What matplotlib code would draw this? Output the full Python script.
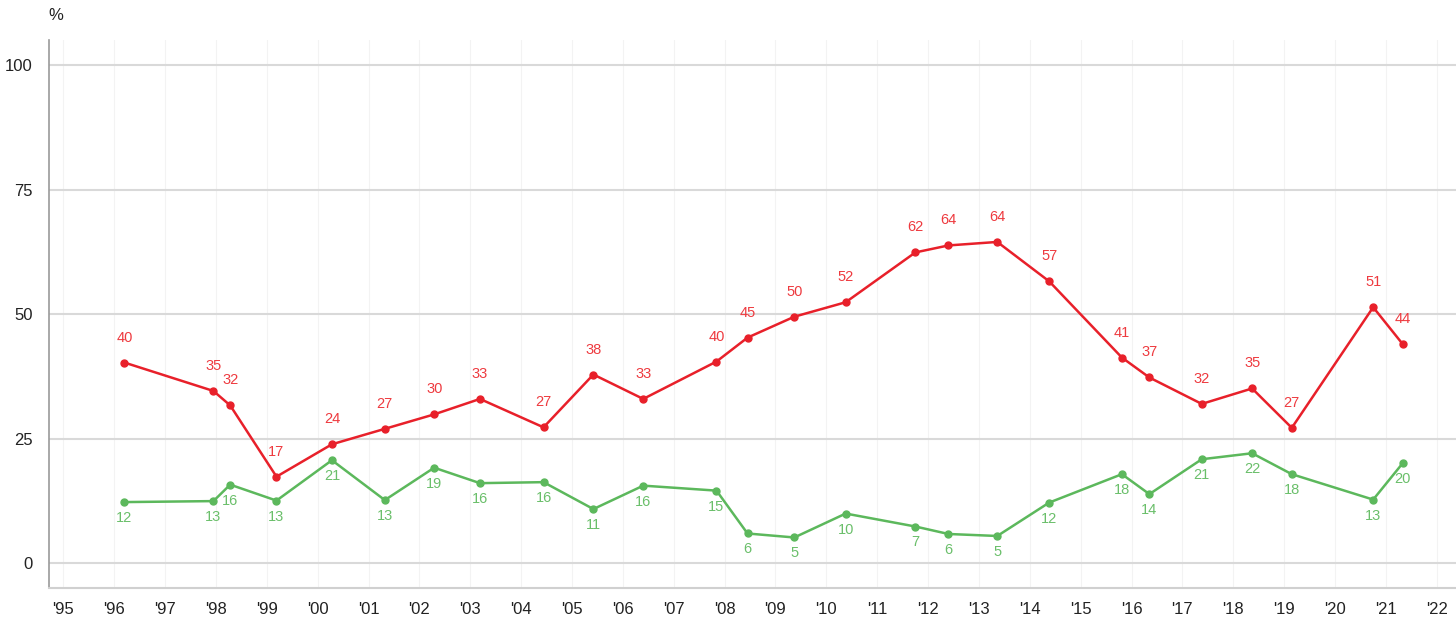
import matplotlib.pyplot as plt
import numpy as np

# survey dates (fractional years) and values in %
dates = [1996.2, 1997.95, 1998.28, 1999.19, 2000.28, 2001.32, 2002.29, 2003.19,
         2004.44, 2005.42, 2006.40, 2007.84, 2008.45, 2009.37, 2010.38, 2011.75,
         2012.40, 2013.36, 2014.38, 2015.81, 2016.35, 2017.38, 2018.37, 2019.15,
         2020.75, 2021.33]
red_values = [40.3, 34.6, 31.7, 17.4, 23.9, 27.0, 29.9, 33.0, 27.3, 37.9, 33.0,
              40.5, 45.3, 49.5, 52.4, 62.4, 63.8, 64.5, 56.6, 41.3, 37.3, 32.0,
              35.1, 27.2, 51.4, 44.0]
red_labels = [40, 35, 32, 17, 24, 27, 30, 33, 27, 38, 33, 40, 45, 50, 52, 62,
              64, 64, 57, 41, 37, 32, 35, 27, 51, 44]
green_values = [12.3, 12.5, 15.8, 12.6, 20.7, 12.7, 19.2, 16.1, 16.3, 10.9, 15.6,
                14.6, 6.0, 5.2, 10.0, 7.4, 5.9, 5.5, 12.2, 17.9, 13.9, 20.9,
                22.1, 17.9, 12.8, 20.1]
green_labels = [12, 13, 16, 13, 21, 13, 19, 16, 16, 11, 16, 15, 6, 5, 10, 7, 6,
                5, 12, 18, 14, 21, 22, 18, 13, 20]

year_ticks = list(range(1995, 2023))
year_tick_labels = ["'%02d" % (y % 100) for y in year_ticks]
y_ticks = [0, 25, 50, 75, 100]

red = "#e8202a"
green = "#5cb85c"

plt.rcParams["font.family"] = ["Liberation Sans", "DejaVu Sans"]

fig = plt.figure(figsize=(14.56, 6.17), dpi=100)
ax = fig.add_axes([0.0339, 0.0465, 0.9661, 0.8885])

ax.plot(dates, red_values, color=red, lw=1.8, marker="o", ms=5, zorder=3)
ax.plot(dates, green_values, color=green, lw=1.8, marker="o", ms=5, zorder=3)

for x, y, lab in zip(dates, red_values, red_labels):
    ax.annotate(str(lab), (x, y), xytext=(0, 18), textcoords="offset points",
                ha="center", va="center", color="#ee3a3f", fontsize=10.5)
for x, y, lab in zip(dates, green_values, green_labels):
    ax.annotate(str(lab), (x, y), xytext=(0, -11.5), textcoords="offset points",
                ha="center", va="center", color="#6abf6a", fontsize=10.5)

ax.set_xlim(1994.725, 2022.378)
ax.set_ylim(-5, 105)
ax.set_xticks(year_ticks)
ax.set_xticklabels(year_tick_labels)
ax.set_yticks(y_ticks)
ax.tick_params(axis="both", length=0, labelsize=12, colors="#222222")
ax.tick_params(axis="x", pad=10)
ax.tick_params(axis="y", pad=12)

# faint vertical year grid, stronger horizontal grid
for yr in year_ticks:
    ax.axvline(yr, color="#f3f3f3", lw=0.8, zorder=0)
for yv in y_ticks:
    ax.axhline(yv, color="#d9d9d9", lw=1.5, zorder=1)

for side in ["top", "right"]:
    ax.spines[side].set_visible(False)
ax.spines["left"].set_color("#9a9a9a")
ax.spines["left"].set_linewidth(1.2)
ax.spines["bottom"].set_color("#d0d0d0")
ax.spines["bottom"].set_linewidth(1.5)

fig.text(0.0385, 0.975, "%", ha="center", va="center", fontsize=12,
         color="#222222")

fig.savefig("out.png", dpi=100)
